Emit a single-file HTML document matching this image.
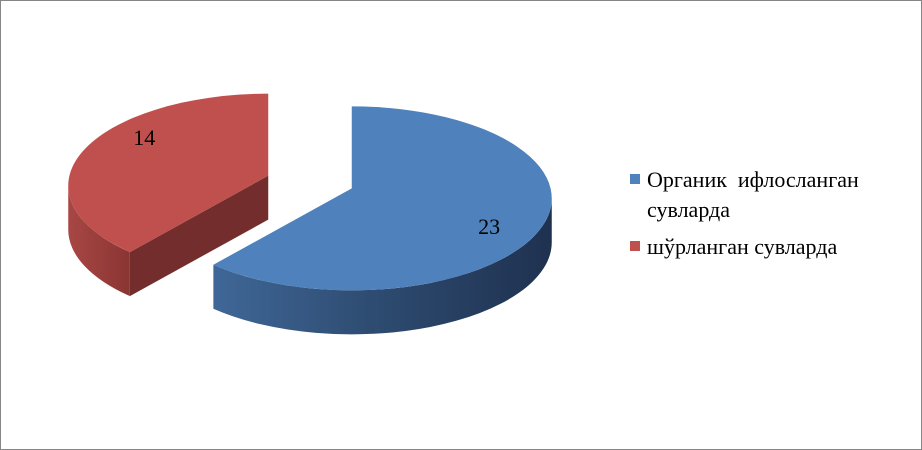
<!DOCTYPE html>
<html><head><meta charset="utf-8"><style>
body{margin:0;background:#fff}
svg{display:block}
svg text{font-family:"Times New Roman","Liberation Serif","DejaVu Serif",serif !important}
</style></head><body>
<svg id="chart" width="922" height="450" viewBox="0 0 922 450">
<defs>
<linearGradient id="gBlue" x1="0" y1="0" x2="1" y2="0">
<stop offset="0" stop-color="#3f6797"/><stop offset="0.5" stop-color="#2d4a6f"/><stop offset="1" stop-color="#1f3150"/>
</linearGradient>
<linearGradient id="gRed" x1="0" y1="0" x2="1" y2="0">
<stop offset="0" stop-color="#a84744"/><stop offset="1" stop-color="#8a3533"/>
</linearGradient>
</defs>
<rect x="0.5" y="0.5" width="921" height="449" fill="#fff" stroke="#868686"/>
<g id="slices"></g>
<g>
<rect x="630" y="174" width="10" height="10" fill="#4f81bd"/>
<text x="647" y="187" font-size="22" fill="#000" xml:space="preserve" style="font-family:'Times New Roman','Liberation Serif',serif">Органик  ифлосланган</text>
<text x="647" y="217" font-size="22" fill="#000" style="font-family:'Times New Roman','Liberation Serif',serif">сувларда</text>
<rect x="630" y="241" width="10" height="10" fill="#c0504d"/>
<text x="647" y="254" font-size="22" fill="#000" style="font-family:'Times New Roman','Liberation Serif',serif">шўрланган сувларда</text>
</g>
</svg>
<script>
const categories=["Органик ифлосланган сувларда","шўрланган сувларда"];
const values=[23,14];
const valueLabels=["23","14"];
const tops=["#4f81bd","#c0504d"];
const sides=["url(#gBlue)","url(#gRed)"];
const cuts=["#2d4a6f","#722d2c"];
const NS="http://www.w3.org/2000/svg";
const g=document.getElementById('slices');
const RX=200,RY=92,D=44;
const total=values.reduce((a,b)=>a+b,0);
const rad=a=>a*Math.PI/180;
function mk(tag,attrs){const e=document.createElementNS(NS,tag);for(const k in attrs)e.setAttribute(k,attrs[k]);return e;}
let start=0;
const slices=values.map((v,i)=>{const s=start,e=start+v/total*360;start=e;return {i,s,e};});
[1,0].forEach(i=>{
 const {s,e}=slices[i];
 const mid=(s+e)/2;
 const cx=310+45*Math.sin(rad(mid)), cy=192-17*Math.cos(rad(mid));
 const ax=cx, ay=cy-10;
 const P=(a)=>[cx+RX*Math.sin(rad(a)), cy-RY*Math.cos(rad(a))];
 const sp=P(s);
 if(s>180 && s<360){
  const c=mk('path',{d:`M${ax},${ay} L${sp[0]},${sp[1]} L${sp[0]},${sp[1]+D} L${ax},${ay+D} Z`,fill:cuts[i]});
  
  
  g.appendChild(c);
 }
 const vs=Math.max(s,90), ve=Math.min(e,270);
 if(ve>vs){
  const a=P(vs),b=P(ve);
  const large=(ve-vs)>180?1:0;
  const sd=mk('path',{d:`M${a[0]},${a[1]} A${RX},${RY} 0 ${large} 1 ${b[0]},${b[1]} L${b[0]},${b[1]+D} A${RX},${RY} 0 ${large} 0 ${a[0]},${a[1]+D} Z`,fill:sides[i]});
  
  
  g.appendChild(sd);
 }
 const p0=P(s),p1=P(e);
 const large=(e-s)>180?1:0;
 const t=mk('path',{d:`M${ax},${ay} L${p0[0]},${p0[1]} A${RX},${RY} 0 ${large} 1 ${p1[0]},${p1[1]} Z`,fill:tops[i]});
 
 
 g.appendChild(t);
 const lx=i===0?cx+0.74*RX*Math.sin(rad(mid)):cx-0.62*RX;
 const ly=i===0?cy+0.39*RY:cy-0.44*RY;
 const tx=mk('text',{x:lx,y:ly,'font-size':22,'text-anchor':'middle',fill:'#000',style:"font-family:'Times New Roman','Liberation Serif',serif"});
 tx.textContent=valueLabels[i];
 
 
 g.appendChild(tx);
});
</script>
</body></html>
